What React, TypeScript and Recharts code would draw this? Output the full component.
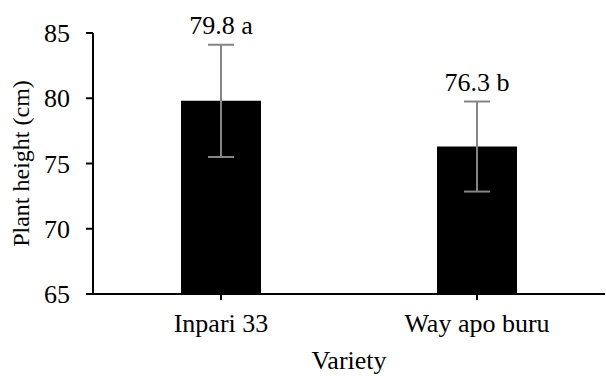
import React from 'react';
import { BarChart, Bar, XAxis, YAxis, ErrorBar, LabelList, Label } from 'recharts';

const varieties = ['Inpari 33', 'Way apo buru'];
const heights = [79.8, 76.3];
const errors = [4.3, 3.45];
const groups = ['a', 'b'];
const yTicks = [65, 70, 75, 80, 85];
const yDomain: [number, number] = [65, 85];

const data = varieties.map((name, i) => ({ name, value: heights[i], err: errors[i] }));

const FONT = 'Liberation Serif, Times New Roman, serif';
const textStyle = { fontFamily: FONT };

const TopLabel = (props: any) => {
  const vb = props.viewBox ?? props;
  const i = props.index ?? 0;
  const { x, y, width, height } = vb;
  const pxPerUnit = height / (heights[i] - yDomain[0]);
  const errTop = y - errors[i] * pxPerUnit;
  return (
    <text x={x + width / 2} y={errTop - 11} textAnchor="middle" style={textStyle} fontSize={26} fill="#000">
      {`${heights[i].toFixed(1)} ${groups[i]}`}
    </text>
  );
};

const YTitle = (props: any) => {
  const vb = props.viewBox;
  const cx = 21;
  const cy = vb.y + vb.height / 2;
  return (
    <text x={cx} y={cy} transform={`rotate(-90 ${cx} ${cy})`} textAnchor="middle" dominantBaseline="central"
      style={textStyle} fontSize={24} fill="#000">
      Plant height (cm)
    </text>
  );
};

const XTitle = (props: any) => {
  const vb = props.viewBox;
  return (
    <text x={vb.x + vb.width / 2} y={369} textAnchor="middle" style={textStyle} fontSize={26} fill="#000">
      Variety
    </text>
  );
};

export default function App() {
  return (
    <div style={{ position: 'absolute', left: 0, top: 0, background: '#fff', fontFamily: FONT }}>
      <BarChart width={606} height={376} data={data} margin={{ top: 33, right: 1, left: 0, bottom: 0 }}>
        <XAxis
          dataKey="name"
          height={82}
          tickSize={6}
          tickMargin={14}
          axisLine={{ stroke: '#000', strokeWidth: 2 }}
          tickLine={{ stroke: '#000', strokeWidth: 2 }}
          tick={{ fontSize: 26, fill: '#000', style: textStyle }}
        >
          <Label content={XTitle} />
        </XAxis>
        <YAxis
          width={93}
          domain={yDomain}
          ticks={yTicks}
          tickSize={7}
          tickMargin={16}
          axisLine={{ stroke: '#000', strokeWidth: 2 }}
          tickLine={{ stroke: '#000', strokeWidth: 2 }}
          tick={{ fontSize: 26, fill: '#000', style: textStyle }}
        >
          <Label content={YTitle} />
        </YAxis>
        <Bar dataKey="value" fill="#000" barSize={80} isAnimationActive={false}>
          <ErrorBar dataKey="err" width={13} stroke="#858585" strokeWidth={2} />
          <LabelList dataKey="value" content={TopLabel} />
        </Bar>
      </BarChart>
    </div>
  );
}
